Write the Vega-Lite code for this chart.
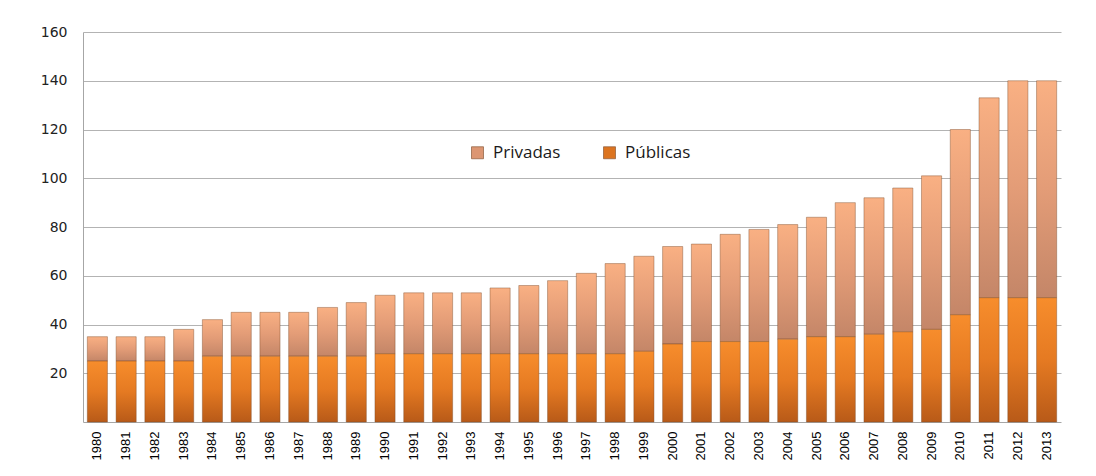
{
  "$schema": "https://vega.github.io/schema/vega-lite/v6.json",
  "width": 978,
  "height": 390,
  "autosize": {"type": "none"},
  "padding": {"left": 83, "top": 32, "right": 35, "bottom": 54},
  "background": "white",
  "config": {"view": {"stroke": null}},
  "data": {
    "values": [
      {"year": "1980", "Públicas": 25, "Privadas": 10},
      {"year": "1981", "Públicas": 25, "Privadas": 10},
      {"year": "1982", "Públicas": 25, "Privadas": 10},
      {"year": "1983", "Públicas": 25, "Privadas": 13},
      {"year": "1984", "Públicas": 27, "Privadas": 15},
      {"year": "1985", "Públicas": 27, "Privadas": 18},
      {"year": "1986", "Públicas": 27, "Privadas": 18},
      {"year": "1987", "Públicas": 27, "Privadas": 18},
      {"year": "1988", "Públicas": 27, "Privadas": 20},
      {"year": "1989", "Públicas": 27, "Privadas": 22},
      {"year": "1990", "Públicas": 28, "Privadas": 24},
      {"year": "1991", "Públicas": 28, "Privadas": 25},
      {"year": "1992", "Públicas": 28, "Privadas": 25},
      {"year": "1993", "Públicas": 28, "Privadas": 25},
      {"year": "1994", "Públicas": 28, "Privadas": 27},
      {"year": "1995", "Públicas": 28, "Privadas": 28},
      {"year": "1996", "Públicas": 28, "Privadas": 30},
      {"year": "1997", "Públicas": 28, "Privadas": 33},
      {"year": "1998", "Públicas": 28, "Privadas": 37},
      {"year": "1999", "Públicas": 29, "Privadas": 39},
      {"year": "2000", "Públicas": 32, "Privadas": 40},
      {"year": "2001", "Públicas": 33, "Privadas": 40},
      {"year": "2002", "Públicas": 33, "Privadas": 44},
      {"year": "2003", "Públicas": 33, "Privadas": 46},
      {"year": "2004", "Públicas": 34, "Privadas": 47},
      {"year": "2005", "Públicas": 35, "Privadas": 49},
      {"year": "2006", "Públicas": 35, "Privadas": 55},
      {"year": "2007", "Públicas": 36, "Privadas": 56},
      {"year": "2008", "Públicas": 37, "Privadas": 59},
      {"year": "2009", "Públicas": 38, "Privadas": 63},
      {"year": "2010", "Públicas": 44, "Privadas": 76},
      {"year": "2011", "Públicas": 51, "Privadas": 82},
      {"year": "2012", "Públicas": 51, "Privadas": 89},
      {"year": "2013", "Públicas": 51, "Privadas": 89}
    ]
  },
  "transform": [
    {"fold": ["Privadas", "Públicas"], "as": ["tipo", "valor"]},
    {"stack": "valor", "groupby": ["year"], "sort": [{"field": "tipo", "order": "descending"}], "as": ["v0", "v1"]}
  ],
  "encoding": {
    "x": {
      "field": "year",
      "type": "ordinal",
      "scale": {"paddingInner": 0.3, "paddingOuter": 0.15},
      "axis": {
        "title": null,
        "labelAngle": -90,
        "labelFont": "Liberation Sans",
        "labelFontSize": 13,
        "labelColor": "#000000",
        "labelPadding": 9,
        "ticks": false,
        "domainColor": "#a6a6a6",
        "grid": false
      }
    }
  },
  "layer": [
    {
      "mark": {"type": "bar", "stroke": "#7a4a2a", "strokeWidth": 0.7, "strokeOpacity": 0.6},
      "encoding": {
        "y": {
          "field": "v0",
          "type": "quantitative",
          "scale": {"domain": [0, 160], "nice": false},
          "axis": {
            "title": null,
            "values": [20, 40, 60, 80, 100, 120, 140, 160],
            "grid": true,
            "gridColor": "#b3b3b3",
            "domain": true,
            "domainColor": "#a6a6a6",
            "ticks": false,
            "labelFont": "DejaVu Sans",
            "labelFontSize": 14,
            "labelColor": "#222222",
            "labelPadding": 16
          }
        },
        "y2": {"field": "v1"},
        "fill": {
          "condition": {
            "test": "datum.tipo === 'Públicas'",
            "value": {"gradient": "linear", "x1": 0, "y1": 0, "x2": 0, "y2": 1,
              "stops": [{"offset": 0, "color": "#f78d2c"}, {"offset": 0.5, "color": "#e57a22"}, {"offset": 1, "color": "#b85a18"}]}
          },
          "value": {"gradient": "linear", "x1": 0, "y1": 0, "x2": 0, "y2": 1,
            "stops": [{"offset": 0, "color": "#f9b083"}, {"offset": 0.5, "color": "#e39c77"}, {"offset": 1, "color": "#c48668"}]}
        }
      }
    },
    {
      "mark": {"type": "point", "shape": "square", "filled": true, "opacity": 0},
      "encoding": {
        "y": {"field": "v1", "type": "quantitative"},
        "color": {
          "field": "tipo",
          "type": "nominal",
          "scale": {"domain": ["Privadas", "Públicas"], "range": ["#dc9672", "#dc7420"]},
          "legend": {
            "orient": "none",
            "legendX": 386,
            "legendY": 112,
            "direction": "horizontal",
            "title": null,
            "symbolType": "square",
            "symbolSize": 144,
            "symbolOpacity": 1,
            "symbolStrokeColor": "#8a5a3a",
            "symbolStrokeWidth": 0.7,
            "labelFont": "Open Sans",
            "labelFontSize": 17,
            "labelColor": "#1a1a1a",
            "labelOffset": 7,
            "columnPadding": 40,
            "padding": 0
          }
        }
      }
    }
  ]
}
